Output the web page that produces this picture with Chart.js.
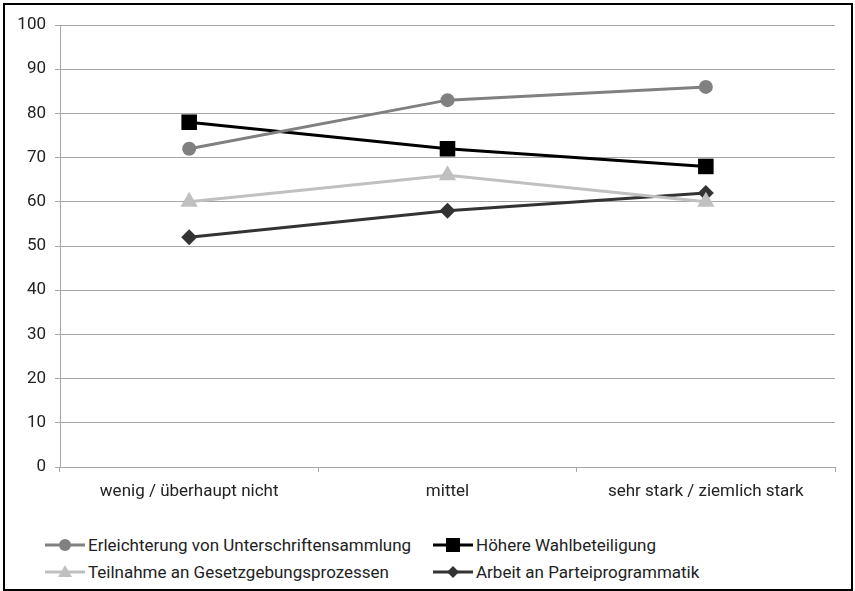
<!DOCTYPE html>
<html lang="de">
<head>
  <meta charset="UTF-8">
  <title>Liniendiagramm</title>
  <style>
    body {
      margin: 0;
      background: #fff;
      font-family: Roboto, Arial, sans-serif;
    }
    .frame {
      position: absolute;
      left: 3px;
      top: 3px;
      width: 846px;
      height: 584px;
      border: 2px solid #000;
    }
    .chart-box {
      position: absolute;
      left: 5px;
      top: 5px;
      width: 845px;
      height: 505px;
    }
    .legend {
      position: absolute;
      left: 45px;
      top: 533px;
      display: grid;
      grid-template-columns: 388px 380px;
      row-gap: 3px;
      font-size: 17px;
      color: #222;
    }
    .legend-item {
      display: flex;
      align-items: center;
      height: 24px;
    }
    .legend-item svg {
      margin-right: 3px;
    }
  </style>
</head>
<body>
  <div class="frame"></div>
  <div class="chart-box"><canvas id="chart"></canvas></div>
  <div class="legend" id="legend"></div>

  <script src="https://cdn.jsdelivr.net/npm/chart.js"></script>
  <script>
    const categories = ['wenig / überhaupt nicht', 'mittel', 'sehr stark / ziemlich stark'];
    const seriesNames = [
      'Erleichterung von Unterschriftensammlung',
      'Höhere Wahlbeteiligung',
      'Teilnahme an Gesetzgebungsprozessen',
      'Arbeit an Parteiprogrammatik'
    ];
    const erleichterung = [72, 83, 86];
    const wahlbeteiligung = [78, 72, 68];
    const gesetzgebung = [60, 66, 60];
    const parteiprogramm = [52, 58, 62];
    const yTicks = [0, 10, 20, 30, 40, 50, 60, 70, 80, 90, 100];

    const gridColor = '#a6a6a6';

    const datasets = [
      { label: seriesNames[0], data: erleichterung, borderColor: '#808080', backgroundColor: '#808080', pointStyle: 'circle', pointRadius: 7 },
      { label: seriesNames[1], data: wahlbeteiligung, borderColor: '#000000', backgroundColor: '#000000', pointStyle: 'rect', pointRadius: 11 },
      { label: seriesNames[2], data: gesetzgebung, borderColor: '#c0c0c0', backgroundColor: '#c0c0c0', pointStyle: 'triangle', pointRadius: 10 },
      { label: seriesNames[3], data: parteiprogramm, borderColor: '#333333', backgroundColor: '#333333', pointStyle: 'rectRot', pointRadius: 8 }
    ].map(d => Object.assign(d, {
      borderWidth: 3,
      pointBorderWidth: 0,
      pointHoverRadius: d.pointRadius,
      tension: 0,
      fill: false
    }));

    const chart = new Chart(document.getElementById('chart'), {
      type: 'line',
      data: { labels: categories, datasets: datasets },
      options: {
        responsive: true,
        maintainAspectRatio: false,
        animation: false,
        layout: { padding: { top: 20, right: 15, left: 0, bottom: 0 } },
        plugins: { legend: { display: false }, tooltip: { enabled: false } },
        scales: {
          x: {
            offset: true,
            grid: { offset: true, drawOnChartArea: false, drawTicks: true, tickLength: 5, color: gridColor },
            border: { color: gridColor },
            ticks: { color: '#222', font: { family: 'Roboto', size: 17 }, padding: 10, maxRotation: 0 },
            afterFit: s => { s.height = 43; }
          },
          y: {
            min: 0,
            max: 100,
            afterBuildTicks: s => { s.ticks = yTicks.map(v => ({ value: v })); },
            grid: { color: gridColor, tickLength: 5 },
            border: { color: gridColor },
            ticks: { color: '#222', font: { family: 'Roboto', size: 17 }, padding: 9 },
            afterFit: s => { s.width = 55; }
          }
        }
      }
    });

    // legend in two columns like the original
    function markerSvg(ds) {
      const c = ds.borderColor;
      let shape = '';
      if (ds.pointStyle === 'circle') shape = `<circle cx="20" cy="9" r="6" fill="${c}"/>`;
      else if (ds.pointStyle === 'rect') shape = `<rect x="13" y="2" width="14" height="14" fill="${c}"/>`;
      else if (ds.pointStyle === 'triangle') shape = `<polygon points="20,2 27,14 13,14" fill="${c}"/>`;
      else shape = `<polygon points="20,3 26,9 20,15 14,9" fill="${c}"/>`;
      return `<svg width="40" height="18"><line x1="0" y1="9" x2="40" y2="9" stroke="${c}" stroke-width="3"/>${shape}</svg>`;
    }
    const order = [0, 1, 2, 3];
    document.getElementById('legend').innerHTML = order.map(i => {
      const ds = chart.data.datasets[i];
      return `<div class="legend-item">${markerSvg(ds)}<span>${ds.label}</span></div>`;
    }).join('');
  </script>
</body>
</html>
